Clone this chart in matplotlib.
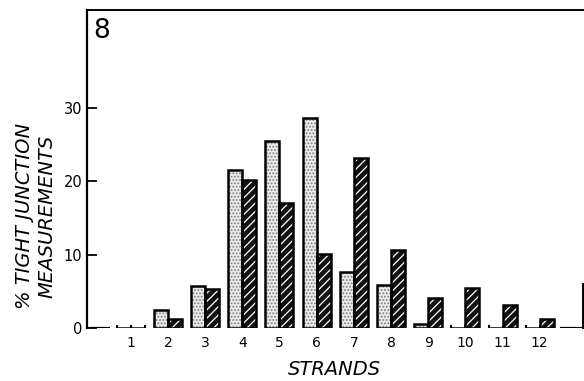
import numpy as np
import matplotlib
matplotlib.use('Agg')
import matplotlib.pyplot as plt

plt.rcParams['font.family'] = ['DejaVu Sans']
plt.rcParams['hatch.linewidth'] = 0.9

strands = np.arange(1, 13)
tick_labels = [str(s) for s in strands]
stippled = [0, 2.5, 5.7, 21.6, 25.5, 28.7, 7.7, 5.9, 0.6, 0, 0, 0]
hatched = [0, 1.3, 5.3, 20.2, 17.1, 10.1, 23.2, 10.6, 4.1, 5.4, 3.1, 1.2]

w = 0.376

fig = plt.figure(figsize=(5.84, 3.81), dpi=100)
ax = fig.add_axes([0.149, 0.139, 0.849, 0.835])

# stippled bars
ax.bar(strands - w / 2, stippled, w, align='center', facecolor='#ebebeb',
       edgecolor='#808080', hatch='.....', linewidth=0, zorder=2)
ax.bar(strands - w / 2, stippled, w, align='center', facecolor='none',
       edgecolor='black', linewidth=1.8, zorder=3)
# hatched bars
ax.bar(strands + w / 2, hatched, w, align='center', facecolor='#111111',
       edgecolor='white', hatch='////', linewidth=0, zorder=2)
ax.bar(strands + w / 2, hatched, w, align='center', facecolor='none',
       edgecolor='black', linewidth=1.8, zorder=3)

# little stubs where a bar is empty
for vals, off in [(stippled, -w / 2), (hatched, w / 2)]:
    for s, v in zip(strands, vals):
        if v == 0:
            ax.vlines([s + off - w / 2, s + off + w / 2], 0, 0.45,
                      color='black', linewidth=1.5, zorder=3)

ax.set_xlim(-0.175, 13.16)
ax.set_ylim(0, 43.4)

# baseline pieces at the two ends
ax.hlines(0, -0.175, 0.44, color='black', linewidth=1.6, zorder=3)
ax.hlines(0, 12.54, 13.16, color='black', linewidth=1.6, zorder=3)

ax.spines['bottom'].set_visible(False)
ax.spines['left'].set_linewidth(1.6)
ax.spines['top'].set_linewidth(1.4)
ax.spines['right'].set_linewidth(1.4)
ax.spines['right'].set_bounds(0, 6)

ax.set_yticks([0, 10, 20, 30])
ax.tick_params(axis='y', direction='in', length=7, width=1.3, pad=3.5,
               labelsize=10.5)
ax.set_xticks(strands)
ax.set_xticklabels(tick_labels)
ax.tick_params(axis='x', length=0, pad=6, labelsize=10)

ax.set_xlabel('STRANDS', fontsize=14, style='italic', labelpad=7)
ax.set_ylabel('% TIGHT JUNCTION\nMEASUREMENTS', fontsize=14, style='italic',
              linespacing=1.2)
ax.yaxis.set_label_coords(-0.062, 0.352)

ax.text(0.013, 0.975, '8', transform=ax.transAxes, fontsize=19,
        ha='left', va='top')

fig.savefig('out.png', dpi=100)
